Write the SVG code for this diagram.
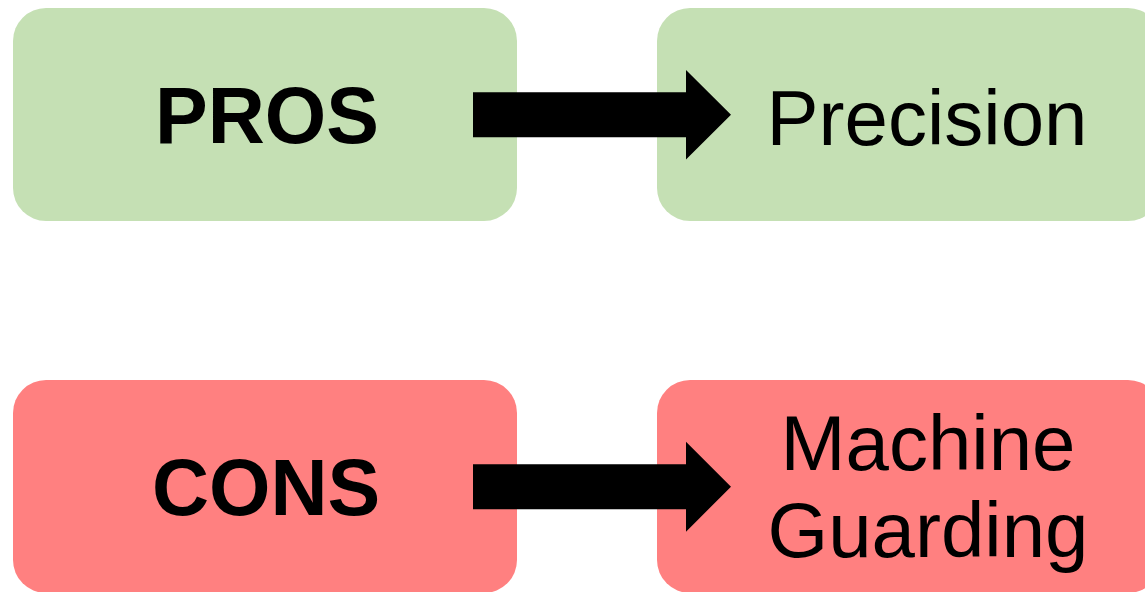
<svg xmlns="http://www.w3.org/2000/svg" width="1145" height="592" viewBox="0 0 1145 592">
  <style>
    .pro { fill: #C5E0B4; }
    .con { fill: #FF8080; }
    .lbl { font-family: "Liberation Sans", Arial, sans-serif; fill: #000; text-anchor: middle; }
    .b { font-weight: bold; font-size: 79px; }
    .r { font-size: 78px; }
    .arrow { fill: #000; }
  </style>
  <rect width="1145" height="592" fill="#fff"/>
  <g id="node-pros">
    <rect class="pro" x="13" y="8" width="504" height="213" rx="33" ry="33"/>
    <text class="lbl b" x="267" y="143">PROS</text>
  </g>
  <g id="node-precision">
    <rect class="pro" x="657" y="8" width="504" height="213" rx="33" ry="33"/>
    <text class="lbl r" x="927" y="145">Precision</text>
  </g>
  <g id="node-cons">
    <rect class="con" x="13" y="380" width="504" height="213" rx="33" ry="33"/>
    <text class="lbl b" x="266" y="515">CONS</text>
  </g>
  <g id="node-guarding">
    <rect class="con" x="657" y="380" width="504" height="213" rx="33" ry="33"/>
    <text class="lbl r" x="928" y="470">Machine</text>
    <text class="lbl r" x="928" y="556.5">Guarding</text>
  </g>
  <g id="connectors">
    <polygon class="arrow" points="473,92.3 686,92.3 686,70 731,114.8 686,159.5 686,137.3 473,137.3"/>
    <polygon class="arrow" points="473,464.3 686,464.3 686,441.7 731,486.7 686,531.7 686,509.3 473,509.3"/>
  </g>
</svg>
